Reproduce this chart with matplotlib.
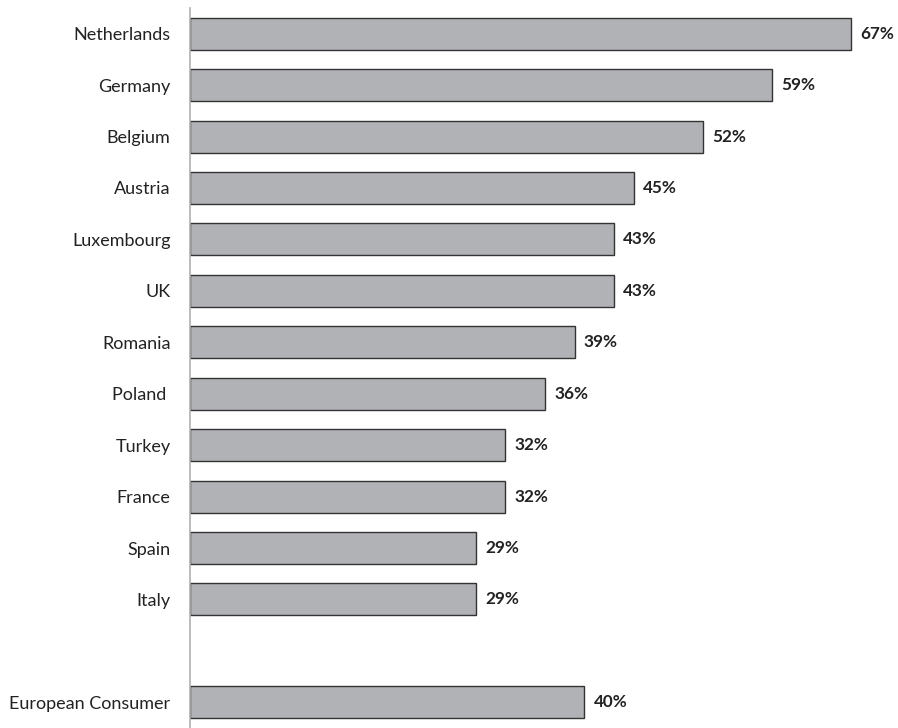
import matplotlib.pyplot as plt

countries = ['Netherlands', 'Germany', 'Belgium', 'Austria', 'Luxembourg', 'UK',
             'Romania', 'Poland ', 'Turkey', 'France', 'Spain', 'Italy']
shares = [67, 59, 52, 45, 43, 43, 39, 36, 32, 32, 29, 29]
total_label = 'European Consumer'
total_share = 40

labels = countries + ['', total_label]
values = shares + [None, total_share]

plt.rcParams['font.family'] = ['Lato', 'DejaVu Sans']

fig = plt.figure(figsize=(8.98, 7.28), dpi=100)
ax = fig.add_axes([190 / 898, 0, 700 / 898, 720 / 728])

# blank slot between the countries and the overall bar
pos = [i for i, v in enumerate(values) if v is not None]
vals = [v for v in values if v is not None]
ax.barh(pos, vals, height=0.62, color='#b1b2b6', edgecolor='#333333', linewidth=1.0)

for p, v in zip(pos, vals):
    ax.text(v + 0.95, p, f'{v}%', va='center', ha='left', fontsize=12.3,
            fontweight='bold', color='#222222')

ax.set_yticks(range(len(labels)))
ax.set_yticklabels(labels, fontsize=13, color='#222222')
ax.tick_params(axis='y', length=0, pad=14)
ax.set_ylim(len(labels) - 0.5, -0.5)
ax.set_xlim(0, 71)
ax.set_xticks([])

for side in ['top', 'right', 'bottom']:
    ax.spines[side].set_visible(False)
ax.spines['left'].set_color('#b0b0b0')
ax.spines['left'].set_linewidth(1.2)

fig.savefig('out.png', dpi=100)
